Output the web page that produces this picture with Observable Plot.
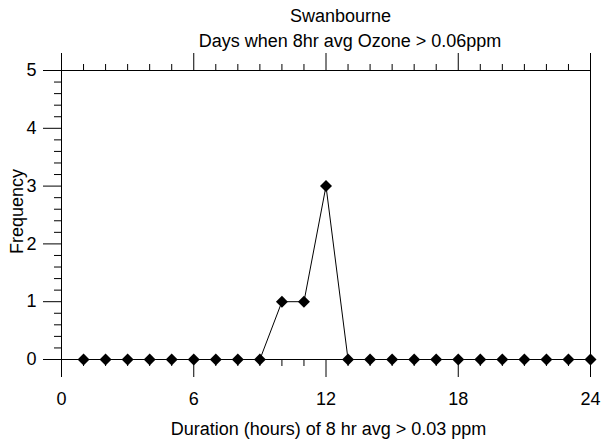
<!DOCTYPE html>
<html><head><meta charset="utf-8">
<script src="https://cdn.jsdelivr.net/npm/d3@7"></script>
<script src="https://cdn.jsdelivr.net/npm/@observablehq/plot@0.6"></script>
<style>body{margin:0;background:#fff}</style>
</head><body><div id="chart"></div>
<script>
const hours = [1,2,3,4,5,6,7,8,9,10,11,12,13,14,15,16,17,18,19,20,21,22,23,24];
const frequency = [0,0,0,0,0,0,0,0,0,1,1,3,0,0,0,0,0,0,0,0,0,0,0,0];
const xMajorTicks = [0,6,12,18,24];
const xMinorTicks = [1,2,3,4,5,7,8,9,10,11,13,14,15,16,17,19,20,21,22,23];
const yMajorTicks = [0,1,2,3,4,5];
const yMinorTicks = [0.2,0.4,0.6,0.8,1.2,1.4,1.6,1.8,2.2,2.4,2.6,2.8,3.2,3.4,3.6,3.8,4.2,4.4,4.6,4.8];
const titleText = "Swanbourne";
const subtitleText = "Days when 8hr avg Ozone > 0.06ppm";
const xLabelText = "Duration (hours) of 8 hr avg > 0.03 ppm";
const yLabelText = "Frequency";

const blank = () => "";
const plain = d => String(d);
const chart = Plot.plot({
  width: 602, height: 441,
  marginLeft: 61, marginRight: 12, marginTop: 70, marginBottom: 82,
  x: {domain: [0, 24]},
  y: {domain: [0, 5]},
  style: {fontFamily: "'Liberation Sans', Arial, sans-serif", fontSize: "18px", color: "black", background: "white"},
  marks: [
    Plot.ruleY([0, 5], {stroke: "black"}),
    Plot.ruleX([0, 24], {stroke: "black"}),
    Plot.axisX(xMajorTicks, {anchor: "bottom", tickSize: 18, tickPadding: 15, label: null, fontSize: 18, tickFormat: plain}),
    Plot.axisX(xMinorTicks, {anchor: "bottom", tickSize: 7, tickFormat: blank, label: null}),
    Plot.axisX(xMajorTicks, {anchor: "top", tickSize: 18, tickFormat: blank, label: null}),
    Plot.axisX(xMinorTicks, {anchor: "top", tickSize: 7, tickFormat: blank, label: null}),
    Plot.axisY(yMajorTicks, {anchor: "left", tickSize: 18, tickPadding: 7, label: null, fontSize: 18, tickFormat: plain}),
    Plot.axisY(yMinorTicks, {anchor: "left", tickSize: 7, tickFormat: blank, label: null}),
    Plot.line(hours, {x: hours, y: frequency, stroke: "black", strokeWidth: 1}),
    Plot.dot(hours, {x: hours, y: frequency, symbol: "diamond2", r: 5.4, fill: "black", stroke: null}),
    Plot.text([titleText], {text: d => d, frameAnchor: "top", lineAnchor: "middle", textAnchor: "middle", dx: 14.5, dy: -53.8, fontSize: 18}),
    Plot.text([subtitleText], {text: d => d, frameAnchor: "top", lineAnchor: "middle", textAnchor: "middle", dx: 24, dy: -28.8, fontSize: 18}),
    Plot.text([xLabelText], {text: d => d, frameAnchor: "bottom", lineAnchor: "middle", textAnchor: "middle", dx: 2.5, dy: 70.2, fontSize: 18}),
    Plot.text([yLabelText], {text: d => d, frameAnchor: "left", rotate: -90, lineAnchor: "middle", textAnchor: "middle", dx: -44.5, dy: -3.5, fontSize: 18})
  ]
});
document.getElementById("chart").appendChild(chart);
</script>
</body></html>
